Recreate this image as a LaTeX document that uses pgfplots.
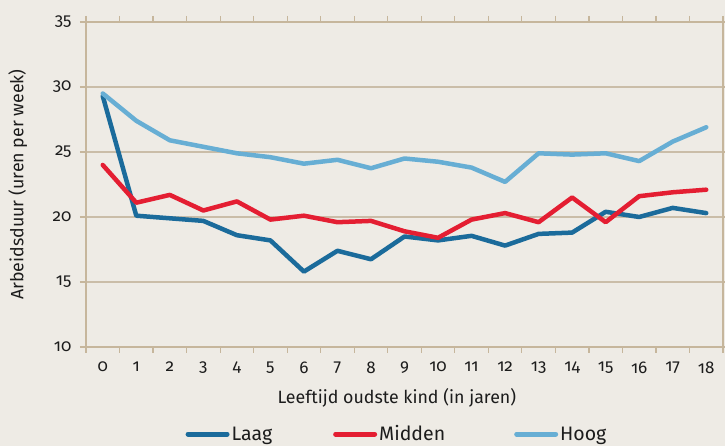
\documentclass[border=0pt]{standalone}
\usepackage{pgfplots}
\pgfplotsset{compat=1.18}
\usepackage{fontspec}
\setmainfont{Fira Sans}[Numbers=OldStyle]
\definecolor{bg}{HTML}{EEEBE5}
\definecolor{grd}{HTML}{CABDA8}
\definecolor{axl}{HTML}{C6B69C}
\definecolor{laag}{HTML}{1B6B9B}
\definecolor{midden}{HTML}{E41E32}
\definecolor{hoog}{HTML}{67AED4}
\definecolor{txt}{HTML}{1C1C1C}
\begin{document}
\begin{tikzpicture}[x=1pt,y=1pt]
\fill[bg] (0,0) rectangle (725,446);
\path[use as bounding box] (0,0) rectangle (725,446);
\begin{axis}[
  at={(86pt,99pt)}, anchor=south west,
  scale only axis, width=637pt, height=325pt,
  xmin=-0.5, xmax=18.5, ymin=10, ymax=35,
  ytick={10,15,...,35},
  xtick={0,...,18},
  minor xtick={-0.5,0.5,...,18.5},
  /pgf/number format/assume math mode=true,
  tick align=outside,
  major tick length=6pt, minor tick length=6pt,
  xtick style={draw=none},
  minor x tick style={draw=axl, line width=1.2pt},
  ytick style={draw=axl, line width=1.2pt},
  ymajorgrids, grid style={draw=grd, line width=1.3pt},
  axis line style={draw=axl, line width=1.6pt},
  axis background/.style={fill=bg},
  ticklabel style={font=\fontsize{17}{20}\selectfont, text=txt},
  yticklabel style={xshift=-5pt},
  xticklabel style={yshift=-5pt},
  xlabel={Leeftijd oudste kind (in jaren)},
  ylabel={Arbeidsduur (uren per week)},
  label style={font=\fontsize{17.8}{21}\selectfont, text=txt},
  xlabel style={at={(axis description cs:0.488,-0.157)}, anchor=center},
  ylabel style={at={(axis description cs:-0.107,0.5)}, anchor=center},
  legend columns=3,
  legend style={draw=none, fill=none, inner sep=0pt, at={(axis description cs:0.156,-0.268)}, anchor=west,
    font=\fontsize{19.5}{22}\selectfont, text=txt,
    /tikz/every odd column/.style={column sep=0pt},
    /tikz/every even column/.style={column sep=0pt}},
  legend image code/.code={\draw[#1, line width=5pt, line cap=round] (0pt,0pt) -- (39pt,0pt);},
  every axis plot/.append style={line width=4.5pt, line cap=round, line join=round},
]
\addplot[laag] coordinates {(0,29.3)(1,20.1)(2,19.9)(3,19.7)(4,18.6)(5,18.2)(6,15.8)(7,17.4)(8,16.75)(9,18.5)(10,18.2)(11,18.55)(12,17.8)(13,18.7)(14,18.8)(15,20.4)(16,20.0)(17,20.7)(18,20.3)};
\addlegendentry{Laag\hspace*{59pt}}
\addplot[midden] coordinates {(0,24.0)(1,21.1)(2,21.7)(3,20.5)(4,21.2)(5,19.8)(6,20.1)(7,19.6)(8,19.7)(9,18.9)(10,18.4)(11,19.8)(12,20.3)(13,19.6)(14,21.5)(15,19.6)(16,21.6)(17,21.9)(18,22.1)};
\addlegendentry{Midden\hspace*{67pt}}
\addplot[hoog] coordinates {(0,29.5)(1,27.4)(2,25.9)(3,25.4)(4,24.9)(5,24.6)(6,24.1)(7,24.4)(8,23.75)(9,24.5)(10,24.25)(11,23.8)(12,22.7)(13,24.9)(14,24.8)(15,24.9)(16,24.3)(17,25.8)(18,26.9)};
\addlegendentry{Hoog}
\end{axis}
\end{tikzpicture}
\end{document}
